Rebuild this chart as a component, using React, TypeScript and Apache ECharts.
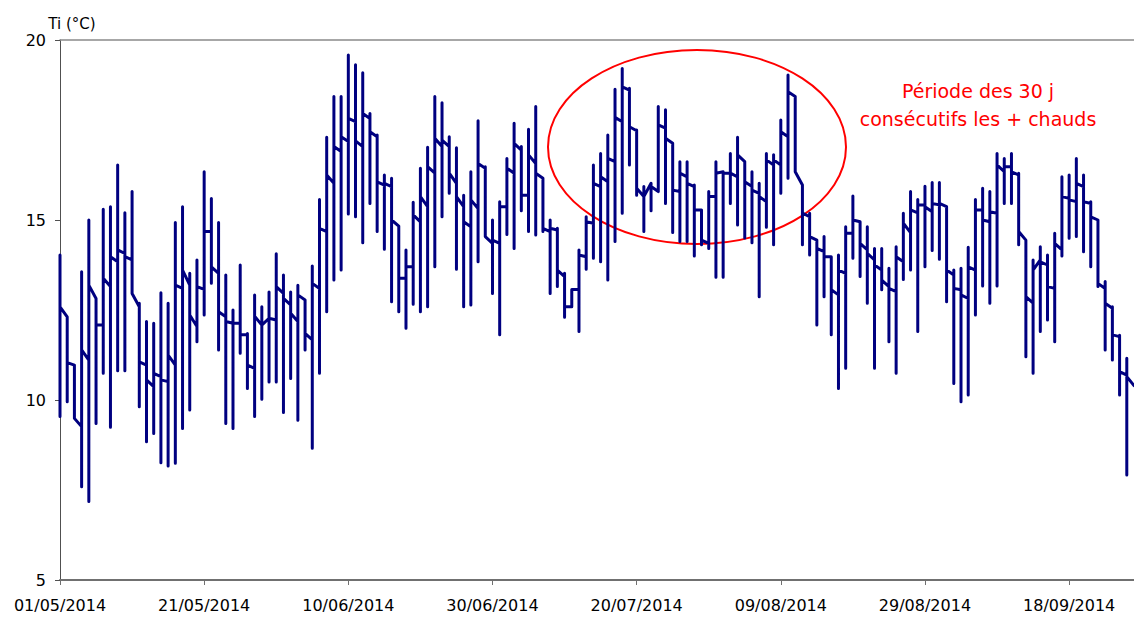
import React, { useEffect, useRef } from "react";
import * as echarts from "echarts";

// Daily indoor temperature Ti (°C), 01/05/2014 + day index.
// For each day: first reading, daily max, daily min, last reading.
const dayFirst = [
  14.03, 12.31, 10.97, 9.26, 11.11, 12.82, 12.08, 13.15, 13.84, 14.07,
  13.89, 12.59, 10.97, 10.37, 10.65, 10.51, 10.97, 13.1, 13.19, 12.04,
  13.07, 14.68, 13.52, 12.31, 12.13, 12.13, 11.81, 10.88, 12.08, 12.27,
  12.22, 12.96, 12.64, 12.18, 12.78, 11.67, 13.1, 14.68, 16.02, 16.9,
  17.18, 17.73, 17.04, 17.82, 17.31, 15.97, 15.93, 14.83, 13.38, 13.7,
  14.95, 15.37, 16.3, 17.04, 17.04, 16.02, 15.37, 14.81, 15.32, 16.44,
  14.35, 14.35, 15.37, 16.3, 16.94, 15.69, 16.57, 16.16, 14.68, 14.72,
  13.43, 12.59, 13.07, 13.98, 14.91, 15.93, 16.06, 16.62, 17.73, 18.61,
  17.48, 15.65, 16.02, 15.79, 17.55, 17.13, 15.79, 16.2, 15.93, 15.28,
  14.35, 15.65, 16.34, 16.3, 16.2, 16.62, 15.93, 15.74, 15.51, 16.53,
  16.53, 17.31, 18.43, 15.97, 15.09, 14.44, 14.12, 13.98, 12.92, 13.52,
  14.63, 14.95, 14.17, 13.89, 13.61, 13.15, 13.01, 13.84, 14.65, 15.2,
  15.42, 15.23, 15.42, 15.37, 13.47, 13.06, 12.82, 13.61, 15.28, 14.95,
  15.19, 16.34, 16.48, 16.25, 14.44, 12.69, 13.89, 13.75, 13.1, 14.17,
  15.6, 15.51, 15.93, 15.46, 15.0, 13.1, 12.55, 11.76, 10.69, 10.4,
];
const dayMax = [
  14.03, 12.31, 10.97, 13.56, 15.0, 12.82, 15.3, 15.37, 16.53, 15.2,
  15.79, 12.69, 12.18, 12.13, 12.98, 12.69, 14.93, 15.37, 13.52, 13.89,
  16.34, 15.6, 14.93, 13.47, 12.5, 13.75, 11.85, 12.92, 12.59, 13.0,
  14.06, 13.47, 13.0, 13.19, 12.78, 13.72, 15.57, 17.3, 18.43, 18.43,
  19.58, 19.31, 19.09, 17.96, 17.36, 16.25, 16.16, 14.83, 14.17, 15.49,
  16.44, 17.02, 18.43, 18.26, 17.31, 17.01, 15.69, 16.34, 17.76, 16.48,
  15.0, 15.51, 16.71, 17.69, 17.04, 17.52, 18.15, 16.16, 15.0, 14.77,
  13.52, 13.07, 14.17, 15.09, 16.53, 16.85, 17.36, 18.63, 19.21, 18.66,
  17.5, 15.93, 16.02, 18.15, 18.06, 17.13, 16.62, 16.62, 15.97, 15.28,
  15.79, 16.62, 16.34, 16.85, 17.3, 16.62, 16.34, 16.02, 16.85, 16.81,
  17.78, 19.03, 18.43, 15.97, 15.19, 14.44, 14.54, 13.98, 14.03, 14.81,
  15.67, 14.95, 14.81, 14.21, 14.21, 13.66, 14.26, 15.19, 15.79, 15.57,
  15.94, 16.04, 16.04, 15.37, 13.61, 13.66, 14.24, 15.57, 15.88, 15.79,
  16.85, 16.71, 16.85, 16.3, 14.44, 13.89, 14.26, 14.03, 14.63, 16.2,
  16.25, 16.71, 16.25, 15.51, 15.0, 13.29, 12.59, 11.8, 11.16, 10.4,
];
const dayMin = [
  9.54, 9.95, 9.49, 7.59, 7.18, 9.35, 10.74, 9.24, 10.81, 10.81,
  12.96, 9.81, 8.84, 9.07, 8.26, 8.17, 8.24, 9.21, 9.72, 11.62,
  12.36, 13.24, 11.39, 9.35, 9.21, 11.3, 10.32, 9.54, 10.02, 10.5,
  10.5, 9.65, 10.6, 9.44, 11.39, 8.66, 10.74, 12.45, 13.33, 13.61,
  15.17, 15.09, 14.37, 15.46, 14.68, 14.19, 12.73, 12.45, 11.99, 12.66,
  12.45, 12.59, 13.7, 15.09, 15.74, 13.63, 12.59, 12.64, 13.84, 14.54,
  12.96, 11.81, 14.6, 14.21, 15.26, 14.68, 14.58, 14.68, 12.96, 13.15,
  12.3, 12.59, 11.9, 13.63, 13.94, 13.84, 13.33, 14.4, 15.19, 16.53,
  15.69, 14.68, 15.26, 15.79, 15.46, 14.65, 14.4, 14.4, 14.0, 14.31,
  14.21, 13.41, 13.41, 15.46, 14.86, 14.5, 14.37, 12.87, 14.8, 14.31,
  15.74, 16.16, 16.34, 14.31, 14.03, 12.08, 12.87, 11.81, 10.32, 10.88,
  13.94, 13.43, 12.69, 10.88, 13.06, 11.62, 10.74, 13.35, 13.61, 11.9,
  13.7, 14.15, 13.91, 12.73, 10.46, 9.95, 10.14, 12.36, 13.17, 12.69,
  13.17, 15.46, 15.46, 14.31, 11.2, 10.74, 11.9, 12.22, 11.62, 14.0,
  14.49, 14.54, 14.12, 13.7, 13.15, 11.39, 11.11, 10.14, 7.92, 10.4,
];
const dayLast = [
  12.59, 11.04, 9.49, 11.39, 13.19, 12.08, 13.38, 13.98, 14.17, 13.98,
  12.96, 11.06, 10.56, 10.74, 10.56, 11.25, 13.19, 13.61, 12.36, 13.15,
  14.68, 13.7, 12.45, 12.18, 12.13, 11.81, 10.97, 12.33, 12.08, 12.27,
  13.15, 12.82, 12.41, 12.92, 11.85, 13.24, 14.77, 16.25, 17.04, 17.31,
  17.82, 17.2, 17.96, 17.45, 16.06, 16.02, 15.0, 13.38, 13.7, 15.14,
  15.65, 16.48, 17.27, 17.22, 16.3, 15.65, 14.95, 15.56, 16.57, 14.54,
  14.44, 15.37, 16.44, 17.13, 15.69, 16.81, 16.3, 14.77, 14.77, 13.61,
  12.59, 13.07, 14.03, 14.95, 16.02, 16.2, 16.71, 17.85, 18.7, 17.59,
  15.88, 15.65, 15.93, 17.64, 17.27, 15.83, 16.3, 16.02, 15.28, 14.44,
  15.65, 16.3, 16.3, 16.3, 16.81, 16.06, 15.83, 15.65, 16.67, 16.67,
  17.45, 18.56, 16.34, 15.19, 14.54, 14.21, 13.98, 13.06, 13.61, 14.63,
  15.0, 14.35, 14.07, 13.75, 13.33, 13.1, 13.98, 14.91, 15.28, 15.42,
  15.37, 15.46, 15.46, 13.61, 13.1, 12.92, 13.7, 15.28, 15.0, 15.23,
  16.53, 16.48, 16.34, 14.68, 12.87, 13.61, 13.84, 13.15, 14.35, 15.65,
  15.56, 16.02, 15.51, 15.09, 13.24, 12.69, 11.81, 10.79, 10.65, 10.4,
];

const START_DATE = Date.UTC(2014, 4, 1);
const xTickDays = [0, 20, 40, 60, 80, 100, 120, 140];
const yTicks = [5, 10, 15, 20];
const LAST_DAY = 149;

const annotationLines = ["Période des 30 j", "consécutifs les + chauds"];

function dayLabel(v: number): string {
  const d = new Date(START_DATE + Math.round(v) * 86400000);
  const dd = String(d.getUTCDate()).padStart(2, "0");
  const mm = String(d.getUTCMonth() + 1).padStart(2, "0");
  return `${dd}/${mm}/${d.getUTCFullYear()}`;
}

const FONT = "DejaVu Sans";

export default function App() {
  const ref = useRef<HTMLDivElement>(null);

  useEffect(() => {
    if (!ref.current) return;
    const chart = echarts.init(ref.current, null, { renderer: "svg" });

    const points: [number, number][] = [];
    for (let d = 0; d < dayFirst.length; d++) {
      points.push([d, dayFirst[d]]);
      points.push([d, dayMax[d]]);
      points.push([d, dayMin[d]]);
      points.push([d, dayLast[d]]);
    }

    chart.setOption({
      animation: false,
      grid: { left: 60, right: -2, top: 40, bottom: 39, containLabel: false },
      xAxis: [
        {
          type: "value",
          min: 0,
          max: LAST_DAY,
          position: "bottom",
          axisLine: { show: true, onZero: false, lineStyle: { color: "#707070", width: 2 } },
          axisTick: {
            show: true,
            length: 5,
            customValues: xTickDays,
            lineStyle: { color: "#707070", width: 1 },
          },
          axisLabel: {
            customValues: xTickDays,
            formatter: (v: number) => dayLabel(v),
            margin: 17,
            color: "#000",
            fontFamily: FONT,
            fontSize: 16,
          },
          splitLine: { show: false },
        },
        {
          type: "value",
          min: 0,
          max: LAST_DAY,
          position: "top",
          axisLine: { show: true, onZero: false, lineStyle: { color: "#8a8a8a", width: 1.5 } },
          axisTick: { show: false },
          axisLabel: { show: false },
          splitLine: { show: false },
        },
      ],
      yAxis: {
        type: "value",
        min: 5,
        max: 20,
        interval: 5,
        name: "Ti (°C)",
        nameLocation: "end",
        nameGap: 9,
        nameTextStyle: {
          color: "#000",
          fontFamily: FONT,
          fontSize: 15,
          padding: [0, 0, 0, 24],
        },
        axisLine: { show: true, onZero: false, lineStyle: { color: "#505050", width: 1 } },
        axisTick: { show: true, length: 5, customValues: yTicks, lineStyle: { color: "#505050" } },
        axisLabel: {
          customValues: yTicks,
          margin: 14,
          color: "#000",
          fontFamily: FONT,
          fontSize: 16,
        },
        splitLine: { show: false },
      },
      series: [
        {
          type: "line",
          data: points,
          showSymbol: false,
          symbol: "none",
          clip: true,
          lineStyle: { color: "#000080", width: 3, cap: "round", join: "round" },
        },
      ],
      graphic: [
        {
          type: "ellipse",
          shape: { cx: 697, cy: 147, rx: 149, ry: 97 },
          style: { fill: "none", stroke: "#ff0000", lineWidth: 2 },
          silent: true,
        },
        {
          type: "text",
          x: 978,
          y: 91,
          style: {
            text: annotationLines[0],
            fill: "#ff0000",
            font: `19px "${FONT}"`,
            align: "center",
            verticalAlign: "middle",
          },
        },
        {
          type: "text",
          x: 978,
          y: 119,
          style: {
            text: annotationLines[1],
            fill: "#ff0000",
            font: `19px "${FONT}"`,
            align: "center",
            verticalAlign: "middle",
          },
        },
      ],
    });

    return () => chart.dispose();
  }, []);

  return (
    <div
      ref={ref}
      style={{ position: "absolute", left: 0, top: 0, width: 1134, height: 619, background: "#fff" }}
    />
  );
}
